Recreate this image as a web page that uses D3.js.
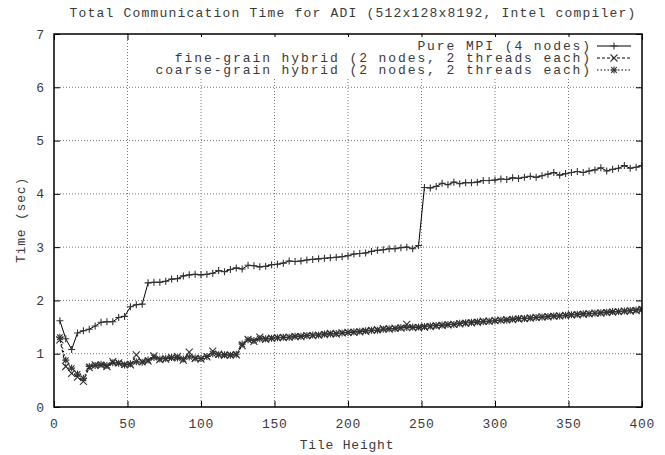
<!DOCTYPE html>
<html><head><meta charset="utf-8">
<script src="https://cdn.jsdelivr.net/npm/d3@7"></script>
<style>
html,body{margin:0;padding:0;background:#fff;}
text{font-family:"Liberation Mono","DejaVu Sans Mono",monospace;fill:#3a3a3a;}
</style></head>
<body><svg id="chart" width="665" height="455"></svg>
<script>
const title = "Total Communication Time for ADI (512x128x8192, Intel compiler)";
const xLabel = "Tile Height";
const yLabel = "Time (sec)";
const xTicks = [0,50,100,150,200,250,300,350,400];
const yTicks = [0,1,2,3,4,5,6,7];
const seriesNames = ["Pure MPI (4 nodes)","fine-grain hybrid (2 nodes, 2 threads each)","coarse-grain hybrid (2 nodes, 2 threads each)"];
const tileHeights = d3.range(4, 401, 4);
const pureMPI = [1.62,1.28,1.08,1.39,1.43,1.46,1.52,1.59,1.60,1.60,1.68,1.70,1.88,1.92,1.93,2.33,2.34,2.34,2.36,2.40,
2.41,2.46,2.48,2.49,2.48,2.49,2.51,2.56,2.54,2.58,2.61,2.59,2.66,2.65,2.63,2.64,2.67,2.68,2.70,2.74,
2.73,2.74,2.76,2.77,2.78,2.79,2.80,2.81,2.82,2.84,2.87,2.88,2.89,2.92,2.94,2.95,2.97,2.97,2.99,3.00,
2.97,3.03,4.12,4.11,4.14,4.20,4.17,4.22,4.19,4.21,4.21,4.22,4.25,4.25,4.26,4.28,4.27,4.30,4.29,4.31,
4.33,4.31,4.34,4.37,4.40,4.35,4.38,4.40,4.42,4.40,4.43,4.45,4.49,4.43,4.46,4.48,4.53,4.48,4.50,4.53];
const fineHybrid = [1.26,0.76,0.63,0.56,0.48,0.74,0.79,0.78,0.76,0.85,0.83,0.80,0.79,0.98,0.85,0.86,0.96,0.89,0.90,0.92,
0.95,0.88,1.03,0.91,0.90,0.94,1.05,0.99,0.97,0.98,0.98,1.15,1.27,1.23,1.31,1.27,1.29,1.30,1.30,1.31,
1.32,1.32,1.34,1.34,1.35,1.36,1.38,1.37,1.39,1.40,1.40,1.41,1.42,1.44,1.45,1.47,1.46,1.48,1.48,1.55,
1.49,1.49,1.50,1.51,1.52,1.53,1.54,1.55,1.56,1.57,1.58,1.59,1.61,1.61,1.62,1.63,1.64,1.64,1.65,1.66,
1.67,1.68,1.69,1.69,1.70,1.71,1.72,1.73,1.73,1.74,1.75,1.76,1.76,1.77,1.78,1.79,1.80,1.80,1.81,1.83];
const coarseHybrid = [1.31,0.88,0.73,0.62,0.54,0.76,0.78,0.80,0.78,0.83,0.82,0.79,0.81,0.85,0.84,0.88,0.93,0.90,0.91,0.93,
0.92,0.90,0.94,0.92,0.91,0.95,1.00,0.98,0.98,0.97,0.99,1.18,1.26,1.25,1.28,1.28,1.29,1.30,1.31,1.31,
1.33,1.33,1.34,1.35,1.35,1.37,1.37,1.38,1.39,1.40,1.41,1.42,1.43,1.44,1.44,1.46,1.47,1.47,1.49,1.49,
1.50,1.50,1.51,1.52,1.53,1.54,1.55,1.55,1.57,1.58,1.59,1.60,1.60,1.61,1.62,1.63,1.63,1.65,1.66,1.66,
1.67,1.68,1.69,1.70,1.71,1.71,1.72,1.73,1.74,1.75,1.75,1.76,1.77,1.78,1.79,1.79,1.80,1.81,1.82,1.84];

const svg = d3.select("#chart");
const L = 54, R = 642, T = 34, B = 407;
const x = d3.scaleLinear().domain([0,400]).range([L,R]);
const y = d3.scaleLinear().domain([0,7]).range([B,T]);

// grid
const g = svg.append("g");
g.selectAll(".gx").data(xTicks.filter(t => t>0 && t<400)).enter().append("line")
  .attr("x1", d=>x(d)).attr("x2", d=>x(d)).attr("y1", B).attr("y2", T)
  .attr("stroke","#777").attr("stroke-width",1).attr("stroke-dasharray","1,2");
g.selectAll(".gy").data(yTicks.filter(t => t>0 && t<7)).enter().append("line")
  .attr("y1", d=>y(d)).attr("y2", d=>y(d)).attr("x1", L).attr("x2", R)
  .attr("stroke","#777").attr("stroke-width",1).attr("stroke-dasharray","1,2");

// axes (inside ticks, mirrored)
const ax = (axis, tr) => svg.append("g").attr("transform", tr).call(axis)
  .call(s => { s.select(".domain").remove(); s.selectAll("text").remove(); s.selectAll("line").attr("stroke","#000"); });
ax(d3.axisBottom(x).tickValues(xTicks).tickSize(-6), `translate(0,${B})`);
ax(d3.axisTop(x).tickValues(xTicks).tickSize(-6), `translate(0,${T})`);
ax(d3.axisLeft(y).tickValues(yTicks).tickSize(-6), `translate(${L},0)`);
ax(d3.axisRight(y).tickValues(yTicks).tickSize(-6), `translate(${R},0)`);

// tick labels
svg.selectAll(".xl").data(xTicks).enter().append("text")
  .attr("x", d=>x(d)+0.35).attr("y", 428).attr("text-anchor","middle")
  .style("font-size","13px").style("letter-spacing","0.7px").text(d=>d);
svg.selectAll(".yl").data(yTicks).enter().append("text")
  .attr("x", 44).attr("y", d=>y(d)).attr("dy","0.35em").attr("text-anchor","end")
  .style("font-size","13px").text(d=>d);

// labels
svg.append("text").attr("x", 353).attr("y", 17).attr("text-anchor","middle")
  .style("font-size","13px").style("letter-spacing","1.2px").text(title);
svg.append("text").attr("x", 347).attr("y", 449).attr("text-anchor","middle")
  .style("font-size","13px").style("letter-spacing","0.8px").text(xLabel);
svg.append("text").attr("transform","translate(25,220) rotate(-90)").attr("text-anchor","middle")
  .style("font-size","13px").style("letter-spacing","0.8px").text(yLabel);

// markers
function plus(sel, cx, cy, s){ sel.append("path").attr("d",`M${cx-s},${cy}H${cx+s}M${cx},${cy-s}V${cy+s}`); }
function cross(sel, cx, cy, s){ sel.append("path").attr("d",`M${cx-s},${cy-s}L${cx+s},${cy+s}M${cx-s},${cy+s}L${cx+s},${cy-s}`); }
function star(sel, cx, cy, s){ plus(sel,cx,cy,s); cross(sel,cx,cy,s*0.8); }

const series = [
  {name: seriesNames[0], values: pureMPI, dash: null, mark: plus},
  {name: seriesNames[1], values: fineHybrid, dash: "3,2", mark: cross},
  {name: seriesNames[2], values: coarseHybrid, dash: "1.5,2", mark: star}
];
const line = d3.line().x((d,i)=>x(tileHeights[i])).y(d=>y(d));
svg.append("clipPath").attr("id","pc").append("rect")
  .attr("x",L).attr("y",T).attr("width",R-L).attr("height",B-T);
const plotG = svg.append("g").attr("clip-path","url(#pc)");
series.forEach(s => {
  plotG.append("path").attr("d", line(s.values)).attr("fill","none")
    .attr("stroke","#000").attr("stroke-width",1).attr("stroke-dasharray", s.dash);
  const mg = plotG.append("g").attr("stroke","#333").attr("stroke-width",1.1).attr("fill","none");
  s.values.forEach((v,i) => s.mark(mg, x(tileHeights[i]), y(v), 3.5));
});

// legend (opaque)
svg.append("rect").attr("x",142).attr("y",37).attr("width",496).attr("height",41).attr("fill","#fff");
series.forEach((s,i) => {
  const ly = 46 + i*12;
  svg.append("text").attr("x",592).attr("y",ly).attr("dy","0.33em").attr("text-anchor","end")
    .style("font-size","13px").style("letter-spacing","1.9px").text(s.name);
  svg.append("line").attr("x1",597).attr("x2",631).attr("y1",ly).attr("y2",ly)
    .attr("stroke","#000").attr("stroke-width",1).attr("stroke-dasharray", s.dash);
  const mg = svg.append("g").attr("stroke","#333").attr("stroke-width",1.1).attr("fill","none");
  s.mark(mg, 614, ly, 3.5);
});

// frame
svg.append("rect").attr("x",L).attr("y",T).attr("width",R-L).attr("height",B-T)
  .attr("fill","none").attr("stroke","#000").attr("stroke-width",1.5);
</script></body></html>
